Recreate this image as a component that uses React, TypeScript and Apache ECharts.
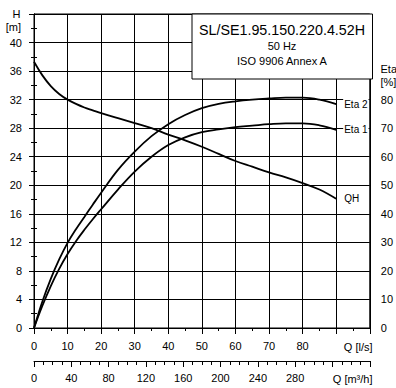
import React, { useEffect, useRef } from "react";
import * as echarts from "echarts";

const FONT = "'Liberation Sans', Arial, sans-serif";

// Flow rate [l/s]
const flowQ = [0, 2.5, 5, 7.5, 10, 12.5, 15, 17.5, 20, 25, 30, 35, 40, 45, 50, 55, 60, 65, 70, 75, 80, 85, 90];
// Head QH [m]
const headH = [37.3, 35.4, 33.9, 32.8, 32.0, 31.4, 30.9, 30.5, 30.1, 29.4, 28.7, 28.0, 27.1, 26.3, 25.4, 24.4, 23.4, 22.6, 21.8, 21.1, 20.3, 19.4, 18.1];
// Efficiency Eta 2 [%]
const eta2 = [0, 9.3, 17.2, 24.0, 29.8, 34.6, 38.9, 43.2, 47.4, 55.4, 61.8, 67.2, 71.4, 74.6, 77.0, 78.5, 79.4, 80.0, 80.4, 80.7, 80.7, 80.0, 78.4];
// Efficiency Eta 1 [%]
const eta1 = [0, 7.8, 14.7, 20.7, 25.9, 30.4, 34.4, 38.1, 41.6, 48.5, 54.8, 60.0, 64.1, 66.8, 68.6, 69.6, 70.4, 70.9, 71.4, 71.7, 71.7, 71.0, 69.4];

const titleLines = ["SL/SE1.95.150.220.4.52H", "50 Hz", "ISO 9906 Annex A"];

export default function App() {
  const ref = useRef<HTMLDivElement>(null);
  useEffect(() => {
    if (!ref.current) return;
    const chart = echarts.init(ref.current, null, { renderer: "svg" });
    const black = "#000";
    const lbl = { color: black, fontFamily: FONT, fontSize: 11 };
    const endLabel = (name: string) => ({
      show: true,
      formatter: name,
      distance: 7,
      color: black,
      fontFamily: FONT,
      fontSize: 10,
      backgroundColor: "#fff",
      padding: [1, 1, 0, 1],
    });
    const lineSeries = (name: string, ys: number[], yAxisIndex: number) => ({
      type: "line",
      name,
      xAxisIndex: 0,
      yAxisIndex,
      data: flowQ.map((q, i) => [q, ys[i]]),
      smooth: 0.4,
      symbol: "none",
      lineStyle: { color: black, width: 1.8 },
      endLabel: endLabel(name),
      z: 5,
    });
    chart.setOption({
      animation: false,
      grid: { left: 34, right: 23.5, top: 14, bottom: 60, show: true, borderColor: black, borderWidth: 1, containLabel: false },
      xAxis: [
        {
          type: "value",
          min: 0,
          max: 100,
          interval: 10,
          position: "bottom",
          axisLine: { show: true, lineStyle: { color: black, width: 1 } },
          axisTick: { show: true, length: 6, lineStyle: { color: black } },
          minorTick: { show: true, splitNumber: 2, length: 3, lineStyle: { color: black } },
          splitLine: { show: true, lineStyle: { color: black, width: 1 } },
          axisLabel: { ...lbl, margin: 12, formatter: (v: number) => (v >= 90 ? "" : String(v)) },
        },
        {
          type: "value",
          min: 0,
          max: 360,
          interval: 40,
          position: "bottom",
          offset: 33,
          axisLine: { show: true, onZero: false, lineStyle: { color: black, width: 1 } },
          axisTick: { show: true, length: 6, lineStyle: { color: black } },
          minorTick: { show: true, splitNumber: 4, length: 4, lineStyle: { color: black } },
          splitLine: { show: false },
          axisLabel: { ...lbl, margin: 11, formatter: (v: number) => (v >= 320 ? "" : String(v)) },
        },
      ],
      yAxis: [
        {
          type: "value",
          min: 0,
          max: 44,
          interval: 4,
          position: "left",
          axisLine: { show: true, lineStyle: { color: black, width: 1 } },
          axisTick: { show: true, length: 5, lineStyle: { color: black } },
          minorTick: { show: true, splitNumber: 2, length: 3, lineStyle: { color: black } },
          splitLine: { show: true, lineStyle: { color: black, width: 1 } },
          axisLabel: { ...lbl, margin: 12, formatter: (v: number) => (v >= 44 ? "" : String(v)) },
        },
        {
          type: "value",
          min: 0,
          max: 110,
          interval: 10,
          position: "right",
          axisLine: { show: true, lineStyle: { color: black, width: 1 } },
          axisTick: { show: true, length: 5, lineStyle: { color: black } },
          minorTick: { show: true, splitNumber: 2, length: 3, lineStyle: { color: black } },
          splitLine: { show: false },
          axisLabel: { ...lbl, margin: 11, formatter: (v: number) => (v >= 90 ? "" : String(v)) },
        },
      ],
      series: [
        lineSeries("QH", headH, 0),
        lineSeries("Eta 1", eta1, 1),
        lineSeries("Eta 2", eta2, 1),
      ],
      graphic: [
        { type: "rect", z: 100, shape: { x: 192, y: 14, width: 180.5, height: 65 }, style: { fill: "#fff", stroke: black, lineWidth: 1 } },
        { type: "text", z: 101, x: 282, y: 30, style: { text: titleLines[0], fill: black, font: `14.3px ${FONT}`, textAlign: "center", textVerticalAlign: "middle" } },
        { type: "text", z: 101, x: 282, y: 45.5, style: { text: titleLines[1], fill: black, font: `11px ${FONT}`, textAlign: "center", textVerticalAlign: "middle" } },
        { type: "text", z: 101, x: 282, y: 61, style: { text: titleLines[2], fill: black, font: `11px ${FONT}`, textAlign: "center", textVerticalAlign: "middle" } },
        { type: "text", z: 101, x: 20.5, y: 14, style: { text: "H", fill: black, font: `11px ${FONT}`, textAlign: "right", textVerticalAlign: "middle" } },
        { type: "text", z: 101, x: 21, y: 27, style: { text: "[m]", fill: black, font: `11px ${FONT}`, textAlign: "right", textVerticalAlign: "middle" } },
        { type: "text", z: 101, x: 380.5, y: 69, style: { text: "Eta", fill: black, font: `11px ${FONT}`, textAlign: "left", textVerticalAlign: "middle" } },
        { type: "text", z: 101, x: 380.5, y: 82, style: { text: "[%]", fill: black, font: `11px ${FONT}`, textAlign: "left", textVerticalAlign: "middle" } },
        { type: "text", z: 101, x: 372.5, y: 347, style: { text: "Q [l/s]", fill: black, font: `11px ${FONT}`, textAlign: "right", textVerticalAlign: "middle" } },
        { type: "text", z: 101, x: 372.5, y: 379, style: { text: "Q [m³/h]", fill: black, font: `11px ${FONT}`, textAlign: "right", textVerticalAlign: "middle" } },
      ],
    });
    return () => chart.dispose();
  }, []);
  return (
    <div
      ref={ref}
      style={{ position: "fixed", left: 0, top: 0, width: 396, height: 388, background: "#fff" }}
    />
  );
}
